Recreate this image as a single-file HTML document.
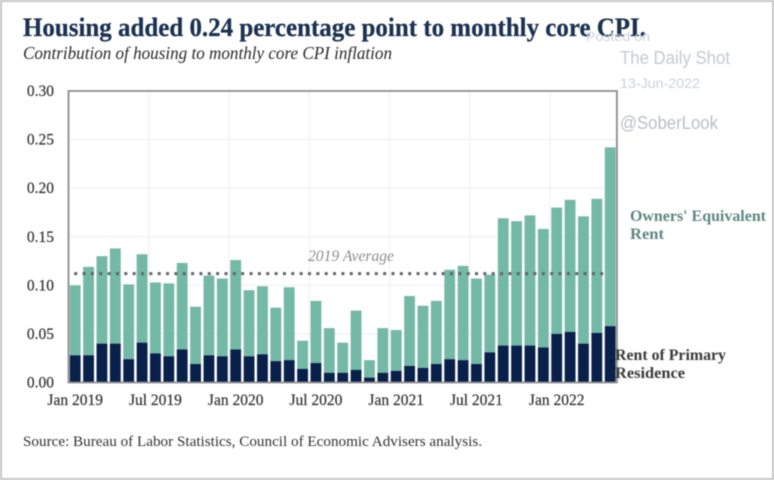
<!DOCTYPE html>
<html lang="en">
<head>
<meta charset="utf-8">
<title>Housing added 0.24 percentage point to monthly core CPI</title>
<style>
html,body{margin:0;padding:0;background:#fff;}
body{width:774px;height:480px;overflow:hidden;}
svg{display:block;filter:blur(0.5px);}
.serif{font-family:"Liberation Serif",serif;}
.sans{font-family:"Liberation Sans",sans-serif;}
</style>
</head>
<body>
<svg id="chart" xmlns="http://www.w3.org/2000/svg" width="774" height="480" viewBox="0 0 774 480">
  <rect x="0" y="0" width="774" height="480" fill="#ffffff"/>
  <rect x="1" y="1" width="772" height="478" fill="none" stroke="#c6c6c6" stroke-width="2"/>
  <text class="serif" x="23" y="36" font-size="26" font-weight="700" fill="#1b3150" stroke="#1b3150" stroke-width="0.25" textLength="623" lengthAdjust="spacingAndGlyphs">Housing added 0.24 percentage point to monthly core CPI.</text>
  <text class="serif" x="23" y="59" font-size="18" font-style="italic" fill="#2b2b2b" textLength="369" lengthAdjust="spacingAndGlyphs">Contribution of housing to monthly core CPI inflation</text>
  <g id="grid"></g>
  <g id="bars"></g>
  <g id="frame"></g>
  <g id="avg"></g>
  <g id="yticks"></g>
  <g id="xticks"></g>
  <text class="serif" x="308" y="261" font-size="15.5" font-style="italic" fill="#8d8d8d" textLength="86" lengthAdjust="spacingAndGlyphs">2019 Average</text>
  <g class="serif" font-size="15.5" font-weight="700" fill="#5f8782">
    <text x="630" y="221" textLength="136" lengthAdjust="spacingAndGlyphs">Owners' Equivalent</text>
    <text x="630" y="239" textLength="34" lengthAdjust="spacingAndGlyphs">Rent</text>
  </g>
  <g class="serif" font-size="15.5" font-weight="700" fill="#3a3a3a">
    <text x="615" y="360" textLength="111" lengthAdjust="spacingAndGlyphs">Rent of Primary</text>
    <text x="615" y="378" textLength="70" lengthAdjust="spacingAndGlyphs">Residence</text>
  </g>
  <text class="serif" x="23" y="446" font-size="15" fill="#333333" textLength="459" lengthAdjust="spacingAndGlyphs">Source: Bureau of Labor Statistics, Council of Economic Advisers analysis.</text>
  <g class="sans">
    <text x="586" y="41" font-size="13" fill="#ccd1d9" textLength="64" lengthAdjust="spacingAndGlyphs">Posted on</text>
    <text x="620" y="64" font-size="18" fill="#c4cad3" textLength="110" lengthAdjust="spacingAndGlyphs">The Daily Shot</text>
    <text x="620" y="88" font-size="14" fill="#ccd1d9" textLength="80" lengthAdjust="spacingAndGlyphs">13-Jun-2022</text>
    <text x="620" y="129" font-size="18" fill="#b7bfca" textLength="98" lengthAdjust="spacingAndGlyphs">@SoberLook</text>
  </g>
</svg>
<script>
const months = ["Jan 2019","Feb 2019","Mar 2019","Apr 2019","May 2019","Jun 2019","Jul 2019","Aug 2019","Sep 2019","Oct 2019","Nov 2019","Dec 2019","Jan 2020","Feb 2020","Mar 2020","Apr 2020","May 2020","Jun 2020","Jul 2020","Aug 2020","Sep 2020","Oct 2020","Nov 2020","Dec 2020","Jan 2021","Feb 2021","Mar 2021","Apr 2021","May 2021","Jun 2021","Jul 2021","Aug 2021","Sep 2021","Oct 2021","Nov 2021","Dec 2021","Jan 2022","Feb 2022","Mar 2022","Apr 2022","May 2022"];
const rentValues = [0.028,0.028,0.040,0.040,0.024,0.041,0.030,0.027,0.034,0.019,0.028,0.027,0.034,0.027,0.029,0.022,0.023,0.014,0.020,0.010,0.010,0.013,0.005,0.010,0.012,0.017,0.015,0.019,0.024,0.023,0.019,0.031,0.038,0.038,0.038,0.036,0.050,0.052,0.040,0.051,0.058];
const oerValues = [0.072,0.091,0.090,0.098,0.077,0.091,0.073,0.075,0.089,0.059,0.082,0.080,0.092,0.068,0.070,0.055,0.075,0.029,0.064,0.046,0.031,0.061,0.018,0.046,0.042,0.072,0.064,0.065,0.092,0.097,0.088,0.080,0.131,0.128,0.134,0.122,0.130,0.136,0.131,0.138,0.184];
const yTickValues = [0,0.05,0.10,0.15,0.20,0.25,0.30];
const xTickLabels = ["Jan 2019","Jul 2019","Jan 2020","Jul 2020","Jan 2021","Jul 2021","Jan 2022"];
const averageValue = 0.112;

const NS = "http://www.w3.org/2000/svg";
const plotLeft = 68.5, plotRight = 616.9, plotTop = 91, plotBottom = 382.5;
const yMax = 0.30;
const band = (plotRight - plotLeft) / months.length;
const barWidth = 10.8;
function xCenter(i){ return plotLeft + band * (i + 0.5); }
function yScale(v){ return plotBottom - (v / yMax) * (plotBottom - plotTop); }
function mk(tag, attrs, parent){
  const el = document.createElementNS(NS, tag);
  for (const k in attrs) el.setAttribute(k, attrs[k]);
  parent.appendChild(el);
  return el;
}
const grid = document.getElementById("grid");
const bars = document.getElementById("bars");
const frame = document.getElementById("frame");
const avg = document.getElementById("avg");
const yticks = document.getElementById("yticks");
const xticks = document.getElementById("xticks");

yTickValues.forEach(function(v){
  const y = yScale(v);
  if (v > 0 && v < yMax) {
    const line = mk("line", {x1: plotLeft, x2: plotRight, y1: y, y2: y, stroke: "#eeeeee", "stroke-width": 1}, grid);
    
    
  }
  const label = mk("text", {x: 54, y: y + 5, "text-anchor": "end", "font-size": 15.5, "font-family": '"Liberation Serif", serif', fill: "#333333", stroke: "#333333", "stroke-width": 0.2}, yticks);
  
  
  label.textContent = v.toFixed(2);
});

xTickLabels.forEach(function(name){
  const i = months.indexOf(name);
  const label = mk("text", {x: xCenter(i), y: 405, "text-anchor": "middle", "font-size": 15.5, "font-family": '"Liberation Serif", serif', fill: "#333333", stroke: "#333333", "stroke-width": 0.2}, xticks);
  
  
  label.textContent = name;
  if (i > 0) {
    const gx = xCenter(i) - band / 2;
    const line = mk("line", {x1: gx, x2: gx, y1: plotTop, y2: plotBottom, stroke: "#eeeeee", "stroke-width": 1}, grid);
    
    
  }
});

months.forEach(function(m, i){
  const cx = xCenter(i);
  const yRent = yScale(rentValues[i]);
  const yTotal = yScale(rentValues[i] + oerValues[i]);
  const top = mk("rect", {x: cx - barWidth / 2, y: yTotal, width: barWidth, height: yRent - yTotal, fill: "#74b8a6"}, bars);
  
  
  const bottom = mk("rect", {x: cx - barWidth / 2, y: yRent, width: barWidth, height: plotBottom - yRent, fill: "#08204a"}, bars);
  
  
});

const box = mk("path", {d: "M" + plotLeft + " " + plotBottom + "V" + plotTop + "H" + plotRight + "V" + plotBottom + "Z", fill: "none", stroke: "#8c8c8c", "stroke-width": 1.8}, frame);



const avgLine = mk("line", {x1: xCenter(0) - 1, x2: xCenter(months.length - 1) - 2, y1: yScale(averageValue), y2: yScale(averageValue), stroke: "#5f6566", "stroke-width": 3, "stroke-dasharray": "3 5.35"}, avg);


</script>
</body>
</html>
